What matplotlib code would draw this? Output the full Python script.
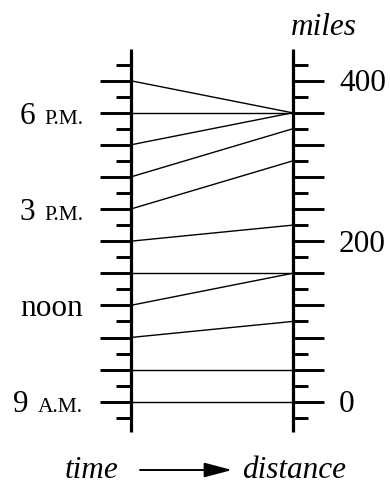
import matplotlib
matplotlib.use("Agg")
import matplotlib.pyplot as plt
import numpy as np

# hours of the day (24h) and miles travelled at each hour
times = [9, 10, 11, 12, 13, 14, 15, 16, 17, 18, 19]
distances = [0, 40, 100, 160, 160, 220, 300, 340, 360, 360, 360]

# labelled hours: (number, small-caps suffix)
time_labels = {18: ("6", "P.M."), 15: ("3", "P.M."), 12: ("noon", ""), 9: ("9", "A.M.")}
mile_labels = [0, 200, 400]

SERIF = ["Liberation Serif", "DejaVu Serif"]
HOUR_PX = 32.1      # pixels per hour on the time scale
MILES_PER_HOUR_TICK = 40
FS = 22.5


def miles_to_y(m):
    # the distance scale shares the vertical axis: 0 miles at 9 A.M., 40 miles per hour-step
    return 9 + np.asarray(m) / MILES_PER_HOUR_TICK


fig = plt.figure(figsize=(3.9, 4.85), dpi=100)
ax = fig.add_axes([0, 0, 1, 1])
ax.set_xlim(0, 390)
ax.set_ylim(9 - 82.3 / HOUR_PX, 19 + 81.7 / HOUR_PX)
ax.axis("off")

time_x, dist_x = 130.5, 292.5
axis_kw = dict(color="black", lw=2.3, solid_capstyle="butt")
tick_kw = dict(color="black", lw=2.1, solid_capstyle="butt")

# the two vertical scales
ax.plot([time_x, time_x], [8.05, 20.0], **axis_kw)
ax.plot([dist_x, dist_x], [8.05, 20.0], **axis_kw)

# time ticks every half hour, long on the hour
for h in np.arange(8.5, 20, 0.5):
    length = 31 if h == int(h) else 15
    ax.plot([time_x - length, time_x], [h, h], **tick_kw)

# distance ticks every 20 miles, long every 40
for m in range(-20, 440, 20):
    length = 31 if m % 40 == 0 else 15
    y = miles_to_y(m)
    ax.plot([dist_x, dist_x + length], [y, y], **tick_kw)

# lines joining each time to the distance reached
for t, d in zip(times, distances):
    ax.plot([time_x, dist_x], [t, miles_to_y(d)], color="black", lw=1.0)

base_off = 9.7 / HOUR_PX

# distance labels
for m in mile_labels:
    ax.text(339, miles_to_y(m) - base_off, str(m), ha="left", va="baseline",
            fontsize=FS, family=SERIF)

# time labels with small-caps suffix
fig.canvas.draw()
renderer = fig.canvas.get_renderer()
for h, (num, suffix) in time_labels.items():
    y = h - base_off
    right = 83
    if suffix:
        st = ax.text(right, y, suffix, ha="right", va="baseline", fontsize=15.5, family=SERIF)
        bb = st.get_window_extent(renderer)
        right = bb.x0 - 9
    ax.text(right, y, num, ha="right", va="baseline", fontsize=FS, family=SERIF)

# axis titles
ax.text(323.5, 19 + (485 - 35 - 403.3) / HOUR_PX, "miles", ha="center", va="baseline",
        fontsize=FS, style="italic", family=SERIF)

y_bottom = 9 - (82.3 - 7.2) / HOUR_PX
ax.text(92, y_bottom, "time", ha="center", va="baseline", fontsize=FS,
        style="italic", family=SERIF)
ax.text(294, y_bottom, "distance", ha="center", va="baseline", fontsize=FS,
        style="italic", family=SERIF)
y_arrow = 9 - (82.3 - 14) / HOUR_PX
ax.annotate("", xy=(232, y_arrow), xytext=(140, y_arrow),
            arrowprops=dict(arrowstyle="-|>,head_length=1.7,head_width=0.45",
                            color="black", lw=1.4, shrinkA=0, shrinkB=0))

fig.savefig("out.png", dpi=100)
